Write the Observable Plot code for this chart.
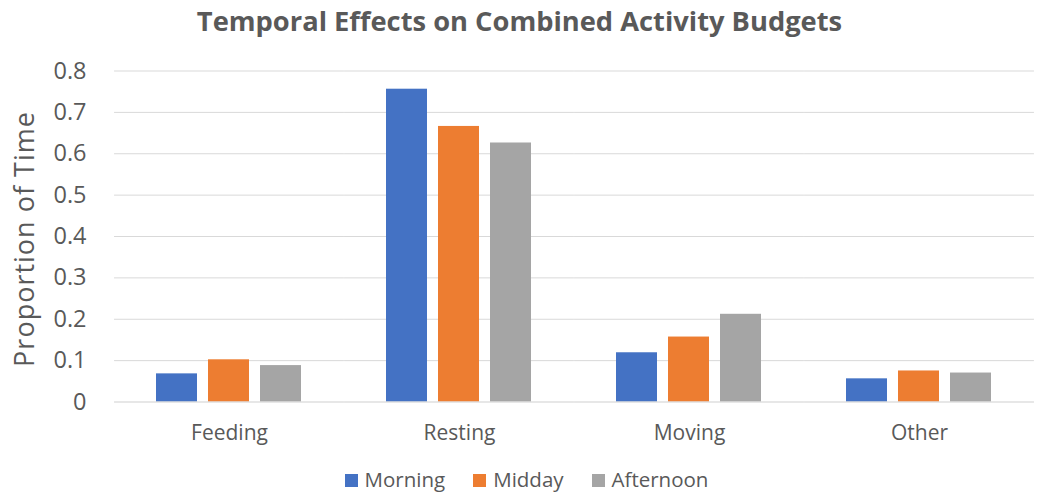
<!DOCTYPE html>
<html>
<head>
<meta charset="utf-8">
<script src="https://cdn.jsdelivr.net/npm/d3@7"></script>
<script src="https://cdn.jsdelivr.net/npm/@observablehq/plot@0.6"></script>
<style>
  html, body { margin: 0; padding: 0; background: #fff; }
  #wrap { position: relative; width: 1039px; height: 493px; overflow: hidden; font-family: "Open Sans", sans-serif; color: #595959; background: #fff; }
  #title { position: absolute; left: 0; top: 3px; width: 1039px; text-align: center; font-weight: bold; font-size: 27.3px; line-height: 36px; z-index: 2; }
  #ylabel { position: absolute; left: 24px; top: 239px; transform: translate(-50%, -50%) rotate(-90deg); white-space: nowrap; font-size: 27px; letter-spacing: 1px; line-height: 32px; z-index: 2; }
  #chart { position: absolute; left: 0; top: 45px; z-index: 1; }
  #legend { position: absolute; left: 0; top: 465px; width: 1039px; height: 28px; display: flex; justify-content: center; align-items: center; font-size: 20.5px; padding-left: 14px; box-sizing: border-box; z-index: 2; }
  .item { display: flex; align-items: center; margin: 0 14px; line-height: 28px; }
  .sw { width: 13px; height: 13px; margin-right: 7px; margin-top: 2px; }
</style>
</head>
<body>
<div id="wrap">
  <div id="title"></div>
  <div id="chart"></div>
  <div id="ylabel"></div>
  <div id="legend"></div>
</div>
<script>
const titleText = "Temporal Effects on Combined Activity Budgets";
const yLabel = "Proportion of Time";
const activities = ["Feeding", "Resting", "Moving", "Other"];
const periods = ["Morning", "Midday", "Afternoon"];
const colors = ["#4472C4", "#ED7D31", "#A5A5A5"];
const morning = [0.068, 0.756, 0.119, 0.056];
const midday = [0.102, 0.666, 0.157, 0.075];
const afternoon = [0.088, 0.626, 0.212, 0.070];
const yTicks = [0, 0.1, 0.2, 0.3, 0.4, 0.5, 0.6, 0.7, 0.8];

const series = [morning, midday, afternoon];
const data = [];
activities.forEach((a, i) => periods.forEach((p, j) => data.push({activity: a, period: p, value: series[j][i]})));

document.getElementById("title").textContent = titleText;
document.getElementById("ylabel").textContent = yLabel;

const W = 1039, H = 410;
const mL = 113, mR = 4, mT = 25.5, mB = 53.5;
const fxPadIn = 0.364, fxPadOut = 0.182;
const step = (W - mL - mR) / (activities.length - fxPadIn + 2 * fxPadOut);
const halfGap = step * fxPadIn / 2;
const outer = step * fxPadOut;

const chart = Plot.plot({
  width: W,
  height: H,
  marginLeft: mL,
  marginRight: mR,
  marginTop: mT,
  marginBottom: mB,
  style: {fontFamily: "'Open Sans', sans-serif", color: "#595959", background: "transparent"},
  fx: {domain: activities, paddingInner: fxPadIn, paddingOuter: fxPadOut, label: null},
  x: {domain: periods, paddingInner: 0.21, paddingOuter: 0, axis: null},
  y: {domain: [0, 0.8], label: null},
  color: {domain: periods, range: colors},
  marks: [
    Plot.ruleY(yTicks.filter(d => d > 0), {y: d => d, stroke: "#d9d9d9", strokeWidth: 1, insetLeft: -halfGap, insetRight: -halfGap}),
    Plot.barY(data, {fx: "activity", x: "period", y: "value", fill: "period"}),
    Plot.ruleY([0], {stroke: "#cfcfcf", strokeWidth: 1.2, insetLeft: -halfGap, insetRight: -halfGap}),
    Plot.axisY({ticks: yTicks, tickSize: 0, tickPadding: 28 + outer, fontSize: 23.5, label: null, tickFormat: d => String(d)}),
    Plot.axisFx({anchor: "bottom", tickSize: 0, tickPadding: 23, fontSize: 21, label: null})
  ]
});
document.getElementById("chart").appendChild(chart);

const legend = document.getElementById("legend");
periods.forEach((p, j) => {
  const item = document.createElement("div");
  item.className = "item";
  const sw = document.createElement("span");
  sw.className = "sw";
  sw.style.background = colors[j];
  const t = document.createElement("span");
  t.textContent = p;
  item.appendChild(sw);
  item.appendChild(t);
  legend.appendChild(item);
});
</script>
</body>
</html>
